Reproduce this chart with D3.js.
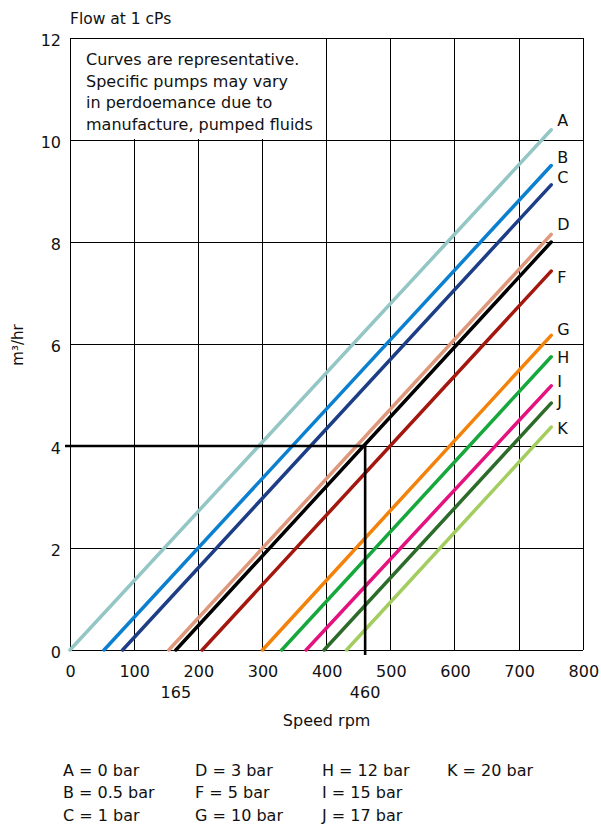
<!DOCTYPE html>
<html>
<head>
<meta charset="utf-8">
<script src="https://cdn.jsdelivr.net/npm/d3@7"></script>
<style>
  html, body { margin: 0; padding: 0; background: #fff; }
  svg text { font-family: "DejaVu Sans", sans-serif; fill: #111; }
</style>
</head>
<body>
<div id="chart"></div>
<script>
// Chart data
const curveIds = ["A", "B", "C", "D", "F", "G", "H", "I", "J", "K"];
const curveColors = ["#93c6c4", "#0b80d0", "#1d3e87", "#e0987c", "#a3170e",
  "#f3820a", "#17a83d", "#e3127e", "#2c6b2a", "#a3cd5e"];
const startRpm = [0, 53, 82, 154, 206, 300, 330, 368, 396, 431];
const endRpm = 750;
const endFlow = [10.2, 9.5, 9.12, 8.15, 7.43, 6.17, 5.75, 5.18, 4.84, 4.37];
const labelFlow = [10.27, 9.55, 9.16, 8.24, 7.2, 6.18, 5.63, 5.16, 4.77, 4.23];

// worked example (black line + readout)
const exampleStart = 165;
const exampleEndFlow = 8.0;
const readRpm = 460;
const readFlow = 4;

const xTicks = [0, 100, 200, 300, 400, 500, 600, 700, 800];
const yTicks = [0, 2, 4, 6, 8, 10, 12];
const extraTicks = [165, 460];

const noteLines = [
  "Curves are representative.",
  "Specific pumps may vary",
  "in perdoemance due to",
  "manufacture, pumped fluids"
];
const legendColumns = [
  ["A = 0 bar", "B = 0.5 bar", "C = 1 bar"],
  ["D = 3 bar", "F = 5 bar", "G = 10 bar"],
  ["H = 12 bar", "I = 15 bar", "J = 17 bar"],
  ["K = 20 bar"]
];

// Layout
const W = 601, H = 824;
const plotLeft = 70, plotRight = 583.3, plotTop = 38, plotBottom = 650;

const x = d3.scaleLinear().domain([0, 800]).range([plotLeft, plotRight]);
const y = d3.scaleLinear().domain([0, 12]).range([plotBottom, plotTop]);

const svg = d3.select("#chart").append("svg")
  .attr("width", W).attr("height", H)
  .attr("viewBox", `0 0 ${W} ${H}`);

// grid
const grid = svg.append("g").attr("class", "grid")
  .attr("stroke", "#000").attr("stroke-width", 1).attr("shape-rendering", "crispEdges");

grid.selectAll("line.v").data(xTicks).join("line")
  .attr("class", "v")
  .attr("x1", d => x(d)).attr("x2", d => x(d))
  .attr("y1", y(12)).attr("y2", y(0));

grid.selectAll("line.h").data(yTicks).join("line")
  .attr("class", "h")
  .attr("x1", x(0)).attr("x2", x(800))
  .attr("y1", d => y(d)).attr("y2", d => y(d));

// note box covers the grid in the top-left cell block
svg.append("rect")
  .attr("x", x(0) + 1).attr("y", y(12) + 1)
  .attr("width", x(400) - x(0) - 2).attr("height", y(10) - y(12) - 2)
  .attr("fill", "#fff");

svg.append("g").selectAll("text").data(noteLines).join("text")
  .attr("x", 86)
  .attr("y", (d, i) => 65 + i * 21.7)
  .attr("font-size", 16)
  .text(d => d);

// axes labels via d3 axes
const xAxis = svg.append("g")
  .attr("transform", `translate(0,${plotBottom})`)
  .call(d3.axisBottom(x).tickValues(xTicks).tickSize(0).tickFormat(d3.format("d")));
xAxis.select(".domain").remove();
xAxis.attr("font-family", null).attr("font-size", null);
xAxis.selectAll("text")
  .attr("dy", null).attr("y", 27)
  .attr("font-size", 16).attr("fill", "#111");

const yAxis = svg.append("g")
  .attr("transform", `translate(${plotLeft},0)`)
  .call(d3.axisLeft(y).tickValues(yTicks).tickSize(0).tickPadding(9).tickFormat(d3.format("d")));
yAxis.select(".domain").remove();
yAxis.attr("font-family", null).attr("font-size", null);
yAxis.selectAll("text")
  .attr("dy", null).attr("y", 7)
  .attr("font-size", 16).attr("fill", "#111");

svg.append("g").selectAll("text").data(extraTicks).join("text")
  .attr("x", d => x(d)).attr("y", plotBottom + 48)
  .attr("text-anchor", "middle").attr("font-size", 16)
  .text(d => d);

// titles
svg.append("text")
  .attr("x", plotLeft).attr("y", 24)
  .attr("font-size", 15.5)
  .text("Flow at 1 cPs");

svg.append("text")
  .attr("x", (plotLeft + plotRight) / 2).attr("y", 726)
  .attr("text-anchor", "middle").attr("font-size", 16)
  .text("Speed rpm");

svg.append("text")
  .attr("transform", `translate(23,345) rotate(-90)`)
  .attr("text-anchor", "middle").attr("font-size", 15)
  .text("m³/hr");

// curves
const curves = curveIds.map((id, i) => ({
  id, color: curveColors[i],
  pts: [[startRpm[i], 0], [endRpm, endFlow[i]]],
  labelY: labelFlow[i]
}));
const example = { id: "example", color: "#000", pts: [[exampleStart, 0], [endRpm, exampleEndFlow]] };
const drawOrder = [...curves.slice(0, 4), example, ...curves.slice(4)];

const line = d3.line().x(d => x(d[0])).y(d => y(d[1]));

svg.append("g").selectAll("path").data(drawOrder).join("path")
  .attr("d", d => line(d.pts))
  .attr("fill", "none")
  .attr("stroke", d => d.color)
  .attr("stroke-width", 3.5)
  .attr("stroke-linecap", "round");

svg.append("g").selectAll("text").data(curves).join("text")
  .attr("x", x(endRpm) + 6)
  .attr("y", d => y(d.labelY))
  .attr("font-size", 16)
  .text(d => d.id);

// readout lines
svg.append("path")
  .attr("d", d3.line()([[plotLeft - 5, y(readFlow)], [x(readRpm), y(readFlow)], [x(readRpm), plotBottom + 5]]))
  .attr("fill", "none").attr("stroke", "#000").attr("stroke-width", 2.6);

// legend
legendColumns.forEach((col, c) => {
  svg.append("g").selectAll("text").data(col).join("text")
    .attr("x", [63, 195, 322, 447][c])
    .attr("y", (d, i) => 776 + i * 22.3)
    .attr("font-size", 16)
    .text(d => d);
});
</script>
</body>
</html>
